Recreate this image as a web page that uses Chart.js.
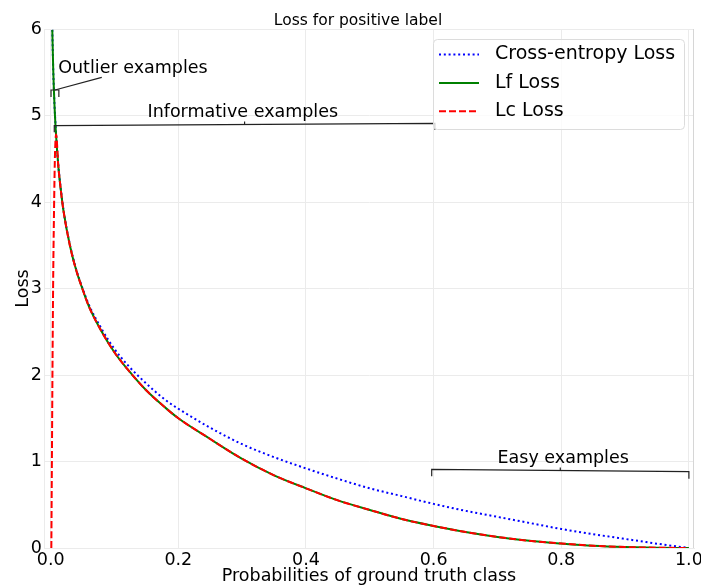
<!DOCTYPE html>
<html>
<head>
<meta charset="utf-8">
<script src="https://cdn.jsdelivr.net/npm/chart.js@4.4.0/dist/chart.umd.min.js"></script>
<style>
html, body { margin: 0; padding: 0; background: #fff; }
</style>
</head>
<body>
<canvas id="lossChart" width="701" height="586"></canvas>
<script>
// 横軸: 正解クラスの確率
const probs = [0.0025, 0.004, 0.006, 0.008, 0.012, 0.016, 0.02, 0.03, 0.04, 0.05, 0.06, 0.08, 0.1, 0.12, 0.15, 0.18, 0.2,
    0.25, 0.3, 0.35, 0.4, 0.45, 0.5, 0.55, 0.6, 0.65, 0.7, 0.75, 0.8, 0.85, 0.9, 0.95, 1.0];
const ceLoss = [5.99, 5.52, 5.12, 4.83, 4.42, 4.14, 3.91, 3.51, 3.22, 3.00, 2.81, 2.53, 2.30, 2.12, 1.90, 1.71, 1.61,
    1.39, 1.20, 1.05, 0.92, 0.80, 0.69, 0.60, 0.51, 0.43, 0.36, 0.29, 0.22, 0.16, 0.105, 0.05, 0];
const lfLoss = [5.99, 5.52, 5.11, 4.82, 4.41, 4.13, 3.90, 3.50, 3.21, 2.99, 2.79, 2.50, 2.26, 2.07, 1.82, 1.62, 1.50,
    1.26, 1.03, 0.84, 0.69, 0.55, 0.44, 0.335, 0.255, 0.185, 0.128, 0.083, 0.052, 0.026, 0.011, 0.003, 0];
// Lc は外れ値の所で0に落ちる
const lcProbs = [0.001, 0.0036, 0.0052, 0.0067, 0.0085, 0.012, 0.016, 0.02, 0.03, 0.04, 0.05, 0.06, 0.08, 0.1, 0.12, 0.15, 0.18, 0.2,
    0.25, 0.3, 0.35, 0.4, 0.45, 0.5, 0.55, 0.6, 0.65, 0.7, 0.75, 0.8, 0.85, 0.9, 0.95, 1.0];
const lcLoss = [0, 2.87, 3.9, 4.55, 4.78, 4.41, 4.13, 3.90, 3.50, 3.21, 2.99, 2.79, 2.50, 2.26, 2.07, 1.82, 1.62, 1.50,
    1.26, 1.03, 0.84, 0.69, 0.55, 0.44, 0.335, 0.255, 0.185, 0.128, 0.083, 0.052, 0.026, 0.011, 0.003, 0];

const seriesLabels = ['Cross-entropy Loss', 'Lf Loss', 'Lc Loss'];
const xTicks = [0, 0.2, 0.4, 0.6, 0.8, 1.0];
const xTickLabels = ['0.0', '0.2', '0.4', '0.6', '0.8', '1.0'];
const yTicks = [0, 1, 2, 3, 4, 5, 6];
const yTickLabels = ['0', '1', '2', '3', '4', '5', '6'];
const chartTitle = 'Loss for positive label';

const FONT = 'DejaVu Sans';

// 注釈（括弧）
const brackets = [
    { text: 'Outlier examples', x0: 0.0005, x1: 0.0128, y0: 5.295, y1: 5.295, drop: 7, mid: 0,
      textX: 0.0118, textY: 5.495, align: 'left', lineTo: [0.08, 5.44] },
    { text: 'Informative examples', x0: 0.0056, x1: 0.602, y0: 4.882, y1: 4.910, drop: 6.5, mid: 3,
      textX: 0.301, textY: 4.986, align: 'center' },
    { text: 'Easy examples', x0: 0.597, x1: 1.0, y0: 0.910, y1: 0.882, drop: 7, mid: 3,
      textX: 0.803, textY: 0.986, align: 'center' }
];

const annotationPlugin = {
    id: 'brackets',
    afterDatasetsDraw(chart) {
        const ctx = chart.ctx;
        const xs = chart.scales.x, ys = chart.scales.y;
        const area = chart.chartArea;
        ctx.save();
        // 右側の枠線
        ctx.strokeStyle = '#d6d6d6';
        ctx.lineWidth = 1;
        ctx.beginPath();
        ctx.moveTo(area.right - 0.5, area.top);
        ctx.lineTo(area.right - 0.5, area.bottom);
        ctx.stroke();

        ctx.strokeStyle = '#222';
        ctx.lineWidth = 1.2;
        ctx.fillStyle = '#000';
        ctx.font = '17.5px "' + FONT + '"';
        ctx.textBaseline = 'alphabetic';
        brackets.forEach(b => {
            const xa = xs.getPixelForValue(b.x0), xb = xs.getPixelForValue(b.x1);
            const ya = ys.getPixelForValue(b.y0), yb = ys.getPixelForValue(b.y1);
            ctx.beginPath();
            ctx.moveTo(xa, ya + b.drop);
            ctx.lineTo(xa, ya);
            ctx.lineTo(xb, yb);
            ctx.lineTo(xb, yb + b.drop);
            ctx.stroke();
            const xm = (xa + xb) / 2, ym = (ya + yb) / 2;
            if (b.mid) {
                ctx.beginPath();
                ctx.moveTo(xm, ym);
                ctx.lineTo(xm, ym - b.mid);
                ctx.stroke();
            }
            if (b.lineTo) {
                ctx.beginPath();
                ctx.moveTo(xm, ym);
                ctx.lineTo(xs.getPixelForValue(b.lineTo[0]), ys.getPixelForValue(b.lineTo[1]));
                ctx.stroke();
            }
            ctx.textAlign = b.align;
            ctx.fillText(b.text, xs.getPixelForValue(b.textX), ys.getPixelForValue(b.textY));
        });
        ctx.restore();
    },
    afterDraw(chart) {
        const ctx = chart.ctx;
        const area = chart.chartArea;
        ctx.save();
        // タイトル
        ctx.fillStyle = '#000';
        ctx.font = '15.5px "' + FONT + '"';
        ctx.textAlign = 'center';
        ctx.textBaseline = 'alphabetic';
        ctx.fillText(chartTitle, 358, area.top - 4);

        // 凡例（グラフ内右上）
        const w = 251, h = 90;
        const left = area.right - 10 - w, top = area.top + 10;
        ctx.fillStyle = 'rgba(255,255,255,0.8)';
        ctx.strokeStyle = '#dcdcdc';
        ctx.lineWidth = 1;
        ctx.beginPath();
        ctx.roundRect(left + 0.5, top + 0.5, w, h, 4);
        ctx.fill();
        ctx.stroke();
        ctx.font = '19px "' + FONT + '"';
        ctx.textBaseline = 'middle';
        ctx.textAlign = 'left';
        chart.data.datasets.forEach((ds, i) => {
            const y = top + 15.5 + i * 28.4;
            ctx.strokeStyle = ds.borderColor;
            ctx.lineWidth = ds.borderWidth;
            ctx.setLineDash(ds.borderDash || []);
            ctx.beginPath();
            ctx.moveTo(left + 6, y);
            ctx.lineTo(left + 46, y);
            ctx.stroke();
            ctx.setLineDash([]);
            ctx.fillStyle = '#000';
            ctx.fillText(ds.label, left + 62, y);
        });
        ctx.restore();
    }
};

new Chart(document.getElementById('lossChart').getContext('2d'), {
    type: 'line',
    data: {
        datasets: [
            {
                label: seriesLabels[0],
                data: probs.map((p, i) => ({ x: p, y: ceLoss[i] })),
                borderColor: '#0000ff',
                borderWidth: 2,
                borderDash: [2, 2.8],
                order: 2
            },
            {
                label: seriesLabels[1],
                data: probs.map((p, i) => ({ x: p, y: lfLoss[i] })),
                borderColor: '#008000',
                borderWidth: 2,
                order: 1
            },
            {
                label: seriesLabels[2],
                data: lcProbs.map((p, i) => ({ x: p, y: lcLoss[i] })),
                borderColor: '#ff0000',
                borderWidth: 2,
                borderDash: [7, 3],
                order: 0
            }
        ]
    },
    options: {
        responsive: false,
        animation: false,
        layout: { padding: { left: 0, right: 7, top: 29, bottom: 0 } },
        elements: {
            point: { radius: 0 },
            line: { cubicInterpolationMode: 'monotone', fill: false }
        },
        plugins: {
            legend: { display: false },
            tooltip: { enabled: false },
            title: { display: false }
        },
        scales: {
            x: {
                type: 'linear',
                min: -0.0105,
                max: 1.008,
                afterBuildTicks: scale => { scale.ticks = xTicks.map(v => ({ value: v })); },
                afterFit: scale => { scale.height = 38; scale.paddingLeft = 0; scale.paddingRight = 0; },
                grid: { color: '#ebebeb', drawTicks: false },
                border: { color: '#ebebeb' },
                ticks: {
                    color: '#000',
                    font: { family: FONT, size: 17.5 },
                    padding: 2,
                    maxRotation: 0,
                    autoSkip: false,
                    callback: (v, i) => xTickLabels[i]
                },
                title: {
                    display: true,
                    text: 'Probabilities of ground truth class',
                    color: '#000',
                    font: { family: FONT, size: 17.5 },
                    padding: { top: 0, bottom: -1 }
                }
            },
            y: {
                type: 'linear',
                min: 0,
                max: 6,
                afterBuildTicks: scale => { scale.ticks = yTicks.map(v => ({ value: v })); },
                afterFit: scale => { scale.width = 44; scale.paddingTop = 0; },
                grid: { color: '#ebebeb', drawTicks: false },
                border: { color: '#ebebeb' },
                ticks: {
                    color: '#000',
                    font: { family: FONT, size: 17.5 },
                    padding: 2,
                    callback: (v, i) => yTickLabels[i]
                },
                title: {
                    display: true,
                    text: 'Loss',
                    color: '#000',
                    font: { family: FONT, size: 17.5 },
                    padding: { top: 13, bottom: 0 }
                }
            }
        }
    },
    plugins: [annotationPlugin]
});
</script>
</body>
</html>
